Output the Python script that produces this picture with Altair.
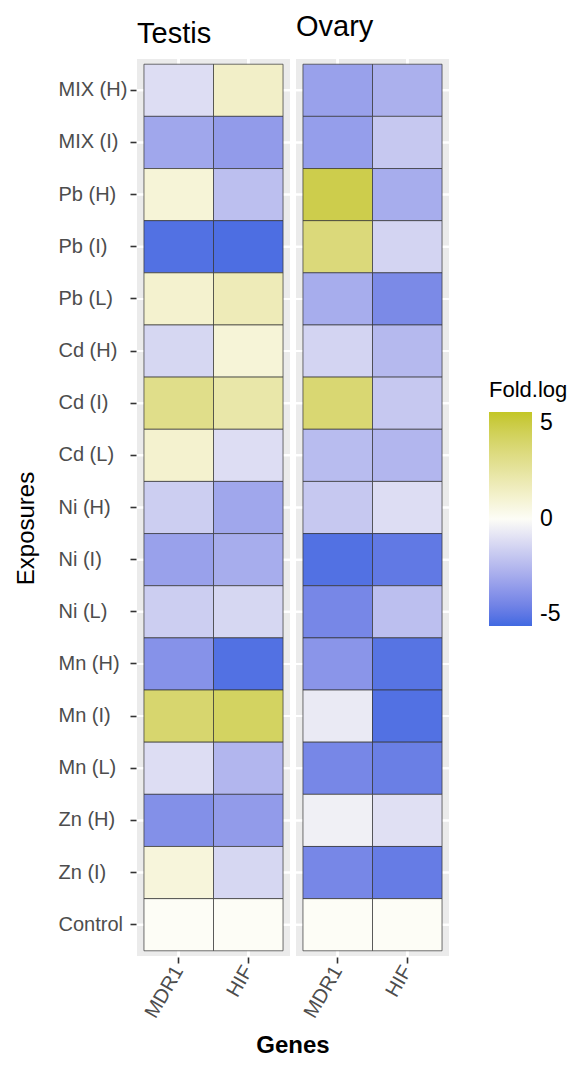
import altair as alt
import pandas as pd

exposures = ["MIX (H)", "MIX (I)", "Pb (H)", "Pb (I)", "Pb (L)", "Cd (H)", "Cd (I)",
             "Cd (L)", "Ni (H)", "Ni (I)", "Ni (L)", "Mn (H)", "Mn (I)", "Mn (L)",
             "Zn (H)", "Zn (I)", "Control"]
genes = ["MDR1", "HIF"]
tissues = ["Testis", "Ovary"]

testis_mdr1 = [-1.0, -2.8, 0.8, -4.7, 1.0, -1.2, 2.8, 1.0, -1.5, -3.0, -1.5, -3.5, 3.5, -1.0, -3.6, 0.7, 0.0]
testis_hif = [1.2, -3.2, -2.0, -4.8, 1.6, 0.8, 2.0, -1.0, -2.8, -2.6, -1.2, -4.7, 3.8, -2.3, -3.2, -1.2, 0.0]
ovary_mdr1 = [-3.0, -3.1, 4.3, 3.2, -2.6, -1.3, 3.4, -2.1, -1.7, -4.7, -3.9, -3.4, -0.6, -3.9, -0.4, -3.9, 0.0]
ovary_hif = [-2.5, -1.7, -2.6, -1.3, -3.8, -2.2, -1.7, -2.3, -1.0, -4.4, -2.0, -4.6, -4.7, -4.2, -0.9, -4.3, 0.0]

rows = []
for tissue, series in [("Testis", [testis_mdr1, testis_hif]), ("Ovary", [ovary_mdr1, ovary_hif])]:
    for gene, vals in zip(genes, series):
        for exp, v in zip(exposures, vals):
            rows.append({"Tissue": tissue, "Gene": gene, "Exposure": exp, "FoldLog": v})
df = pd.DataFrame(rows)

FONT = "Liberation Sans"

x_axis = alt.Axis(title=None, labelAngle=-60, labelAlign="right", labelBaseline="middle",
                  labelFontSize=20, labelColor="#4D4D4D", labelFont=FONT,
                  tickColor="#333333", tickSize=6, tickWidth=1.6, domain=False,
                  grid=False, bandPosition=0.5, labelPadding=4)
y_axis = alt.Axis(title="Exposures", titleFontSize=24, titleFontWeight="normal",
                  titleColor="black", titleFont=FONT, titlePadding=20, titleY=469,
                  labelFontSize=20, labelColor="#4D4D4D", labelFont=FONT, labelAlign="left",
                  tickColor="#333333", tickSize=6, tickWidth=1.6, domain=False,
                  grid=False, bandPosition=0.5, labelPadding=72)

x_enc = alt.X("Gene:N", sort=genes, scale=alt.Scale(paddingInner=0, paddingOuter=0.1), axis=x_axis)
y_enc = alt.Y("Exposure:N", sort=exposures, scale=alt.Scale(paddingInner=0, paddingOuter=0.1), axis=y_axis)

grid_x = alt.Chart().mark_rule(color="white", strokeWidth=2).encode(x=x_enc)
grid_y = alt.Chart().mark_rule(color="white", strokeWidth=2).encode(y=y_enc)

tiles = alt.Chart().mark_rect(stroke="#333333", strokeWidth=0.7).encode(
    x=x_enc,
    y=y_enc,
    color=alt.Color("FoldLog:Q",
                    scale=alt.Scale(domain=[-5, 0, 5], range=["#4169E1", "#FDFDF6", "#C3C625"],
                                    interpolate="lab"),
                    legend=alt.Legend(title="Fold.log", titleFontSize=22, titleFontWeight="normal",
                                      titleColor="black", titleFont=FONT, titlePadding=10,
                                      labelFontSize=23, labelColor="black", labelFont=FONT,
                                      labelExpr="datum.value + ''", labelOffset=8,
                                      values=[-5, 0, 5], gradientLength=214, gradientThickness=43,
                                      gradientStrokeWidth=0, orient="none",
                                      legendX=352, legendY=321)),
)

layered = alt.layer(grid_x, grid_y, tiles, data=df).properties(width=153, height=897)

chart = layered.facet(
    column=alt.Column("Tissue:N", sort=tissues,
                      header=alt.Header(labelFontSize=29, labelColor="black", labelFont=FONT,
                                        labelAnchor="start", labelOrient="top", labelPadding=-20,
                                        labelBaseline="bottom", labelLineHeight=7,
                                        labelExpr="datum.value == 'Ovary' ? ['Ovary', ''] : datum.value",
                                        title="Genes", titleOrient="bottom", titleFontSize=24,
                                        titleFontWeight="bold", titleColor="black", titleFont=FONT,
                                        titlePadding=2)),
    spacing=4,
).configure_view(fill="#EBEBEB", stroke=None).properties(
    padding={"left": 6, "top": 5, "right": 0, "bottom": 5})

chart.save("out.html", embed_options={"renderer": "svg", "actions": False})
